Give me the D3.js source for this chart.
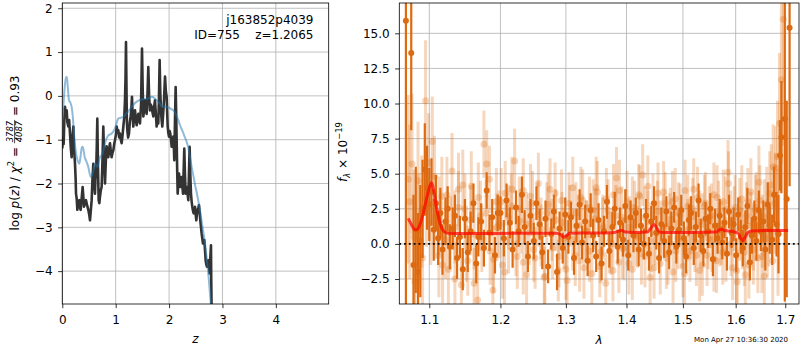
<!DOCTYPE html>
<html>
<head>
<meta charset="utf-8">
<script src="https://cdn.jsdelivr.net/npm/d3@7"></script>
<style>
body { margin: 0; background: #fff; }
text { font-family: "DejaVu Sans", sans-serif; }
</style>
</head>
<body>
<div id="chart"></div>
<script>
// ---- left panel: log p(z) (black) and prior (blue), pairs [z, log p]
const pzCurve = [[0.000,-1.20],[0.012,-0.95],[0.025,-1.10],[0.040,-0.50],[0.051,-0.25],[0.065,-0.45],[0.082,-0.33],[0.095,-0.60],[0.113,-0.70],[0.128,-0.55],[0.144,-0.86],[0.160,-1.20],[0.175,-1.40],[0.190,-0.95],[0.207,-0.70],[0.220,-1.20],[0.238,-1.55],[0.250,-1.90],[0.257,-2.23],[0.270,-2.35],[0.282,-2.60],[0.300,-2.40],[0.319,-2.38],[0.332,-2.55],[0.344,-2.60],[0.362,-2.35],[0.381,-2.08],[0.394,-2.30],[0.406,-2.53],[0.425,-2.45],[0.444,-2.38],[0.465,-2.50],[0.487,-2.60],[0.503,-2.70],[0.519,-2.84],[0.535,-2.60],[0.550,-2.38],[0.565,-1.90],[0.581,-1.55],[0.597,-2.00],[0.612,-2.23],[0.622,-1.85],[0.631,-1.85],[0.645,-1.20],[0.656,-0.52],[0.668,-1.60],[0.681,-2.38],[0.694,-2.45],[0.706,-2.30],[0.722,-2.15],[0.737,-2.08],[0.752,-1.50],[0.768,-0.70],[0.784,-1.40],[0.800,-2.00],[0.815,-1.50],[0.830,-1.15],[0.846,-1.30],[0.862,-1.40],[0.878,-1.20],[0.893,-1.08],[0.908,-1.25],[0.924,-1.40],[0.940,-1.30],[0.956,-1.24],[0.972,-1.10],[0.987,-1.01],[1.003,-0.90],[1.018,-0.70],[1.034,-0.82],[1.049,-0.78],[1.065,-0.95],[1.080,-0.86],[1.096,-1.00],[1.112,-1.08],[1.128,-0.90],[1.143,-0.70],[1.160,-0.50],[1.174,-0.10],[1.184,0.40],[1.193,1.23],[1.203,0.10],[1.210,-0.60],[1.218,-0.78],[1.233,-0.95],[1.249,-0.86],[1.265,-0.60],[1.280,-0.47],[1.293,-0.30],[1.305,-0.02],[1.318,-0.45],[1.330,-0.70],[1.346,-0.45],[1.362,-0.33],[1.378,-0.55],[1.393,-0.67],[1.408,-0.50],[1.424,-0.41],[1.440,-0.55],[1.455,-0.63],[1.475,-0.20],[1.493,1.08],[1.505,0.20],[1.518,-0.47],[1.534,-0.30],[1.549,-0.10],[1.565,-0.30],[1.580,-0.41],[1.596,0.05],[1.611,0.66],[1.626,0.00],[1.642,-0.33],[1.658,-0.20],[1.674,-0.25],[1.690,-0.38],[1.705,-0.47],[1.720,-0.25],[1.736,-0.10],[1.752,-0.40],[1.767,-0.70],[1.783,-0.55],[1.798,-0.63],[1.810,-0.10],[1.823,0.82],[1.835,0.10],[1.848,-0.33],[1.860,-0.55],[1.873,-0.70],[1.890,-0.40],[1.905,-0.10],[1.915,0.20],[1.924,0.44],[1.940,0.10],[1.955,-0.02],[1.965,-0.40],[1.974,-0.70],[1.986,-0.85],[1.998,-0.93],[2.010,-0.80],[2.023,-0.86],[2.036,-1.00],[2.048,-1.16],[2.063,-1.05],[2.079,-0.93],[2.090,-1.20],[2.098,-1.47],[2.110,-0.60],[2.123,0.20],[2.133,-0.40],[2.142,-1.00],[2.152,-1.70],[2.161,-2.23],[2.174,-2.00],[2.186,-1.77],[2.198,-1.95],[2.211,-2.08],[2.224,-1.95],[2.236,-1.85],[2.248,-2.05],[2.261,-2.23],[2.273,-1.70],[2.285,-1.20],[2.298,-1.80],[2.310,-2.23],[2.322,-2.15],[2.335,-2.08],[2.348,-2.25],[2.360,-2.38],[2.372,-1.80],[2.385,-1.16],[2.398,-1.80],[2.410,-2.23],[2.422,-2.40],[2.435,-2.53],[2.448,-2.62],[2.460,-2.68],[2.472,-2.60],[2.485,-2.53],[2.498,-2.70],[2.510,-2.84],[2.522,-2.70],[2.535,-2.60],[2.548,-2.55],[2.560,-2.49],[2.572,-2.65],[2.585,-2.84],[2.598,-3.00],[2.610,-3.14],[2.622,-3.25],[2.635,-3.37],[2.648,-3.33],[2.660,-3.29],[2.672,-3.50],[2.685,-3.75],[2.698,-3.85],[2.710,-3.90],[2.722,-3.82],[2.735,-3.75],[2.748,-3.90],[2.760,-4.05],[2.772,-3.70],[2.785,-3.41],[2.790,-4.20],[2.797,-4.90]];

const priorCurve = [[0.000,-0.45],[0.019,-0.25],[0.045,0.20],[0.069,0.42],[0.085,0.43],[0.100,0.25],[0.125,-0.10],[0.150,-0.15],[0.175,-0.25],[0.195,-0.45],[0.219,-0.86],[0.245,-1.20],[0.269,-1.39],[0.295,-1.50],[0.319,-1.55],[0.340,-1.40],[0.365,-1.18],[0.381,-1.16],[0.400,-1.25],[0.420,-1.40],[0.444,-1.47],[0.487,-1.62],[0.531,-1.85],[0.569,-1.77],[0.612,-1.55],[0.656,-1.62],[0.706,-1.40],[0.756,-1.31],[0.800,-1.08],[0.862,-0.90],[0.924,-0.86],[0.987,-0.74],[1.049,-0.52],[1.143,-0.48],[1.205,-0.40],[1.299,-0.25],[1.393,-0.13],[1.487,-0.08],[1.611,-0.06],[1.674,-0.02],[1.736,-0.06],[1.767,-0.10],[1.830,-0.18],[1.861,-0.24],[1.930,-0.25],[1.986,-0.26],[2.040,-0.30],[2.079,-0.33],[2.110,-0.38],[2.142,-0.46],[2.175,-0.56],[2.205,-0.67],[2.250,-0.80],[2.298,-0.95],[2.330,-1.05],[2.360,-1.18],[2.390,-1.38],[2.423,-1.62],[2.455,-1.82],[2.485,-2.02],[2.516,-2.20],[2.548,-2.40],[2.580,-2.62],[2.610,-2.86],[2.640,-3.10],[2.673,-3.37],[2.700,-3.65],[2.722,-3.90],[2.745,-4.20],[2.766,-4.51],[2.797,-4.95]];

const zTicks = [0, 1, 2, 3, 4];
const logpTicks = [-4, -3, -2, -1, 0, 1, 2];

// ---- right panel: spectrum [lambda, flux, err]
const darkSpec = [[1.069,15.9,30],[1.076,13.6,5.5],[1.079,-1.5,5.0],[1.082,1.0,4.5],[1.085,-2.0,4.2],[1.088,0.2,4.0],[1.091,2.5,3.5],[1.094,5.3,3.3],[1.097,4.0,3.0],[1.100,2.8,2.6],[1.103,3.7,2.4],[1.106,1.0,2.2],[1.109,2.9,2.0],[1.112,0.4,1.9],[1.115,2.2,1.8],[1.118,-0.4,1.8],[1.122,1.6,1.7],[1.125,2.5,1.6],[1.128,-0.2,1.6],[1.132,1.1,1.5],[1.135,2.0,1.5],[1.138,-1.0,1.5],[1.142,0.5,1.5],[1.146,-1.8,1.5],[1.149,1.8,1.4],[1.153,-0.6,1.4],[1.157,0.9,1.4],[1.161,2.9,1.4],[1.165,-1.4,1.4],[1.168,0.5,1.4],[1.172,1.6,1.3],[1.176,-0.3,1.3],[1.180,3.8,1.3],[1.184,0.8,1.3],[1.188,1.9,1.3],[1.192,-0.8,1.3],[1.196,2.2,1.3],
[1.200,2.2,1.2],[1.205,0.4,1.3],[1.209,3.1,1.2],[1.214,1.5,1.1],[1.218,-0.4,1.3],[1.223,2.6,1.2],[1.227,0.9,1.1],[1.232,3.5,1.3],[1.236,1.2,1.2],[1.241,-0.9,1.1],[1.245,2.0,1.2],[1.250,0.2,1.3],[1.254,2.9,1.2],[1.259,1.4,1.1],[1.263,-0.6,1.2],[1.268,1.8,1.3],[1.272,-1.6,1.2],[1.277,0.7,1.1],[1.281,2.3,1.2],[1.286,-2.0,1.3],[1.290,1.1,1.2],[1.295,-0.3,1.1],[1.299,2.1,1.2],[1.304,0.5,1.2],[1.308,1.9,1.1],[1.313,-1.0,1.2],[1.317,1.3,1.2],[1.322,2.8,1.1],[1.326,0.1,1.2],[1.331,1.6,1.2],[1.335,-1.2,1.1],[1.340,2.4,1.2],[1.344,0.6,1.2],[1.349,-0.9,1.1],[1.353,1.7,1.2],[1.358,-1.4,1.2],[1.362,0.9,1.1],[1.367,3.0,1.2],[1.371,-0.5,1.2],[1.376,1.2,1.1],[1.380,2.5,1.2],[1.385,-0.2,1.2],[1.389,1.5,1.1],[1.394,0.3,1.2],[1.398,2.7,1.2],[1.403,-0.8,1.1],[1.407,1.9,1.2],[1.412,0.6,1.2],[1.416,2.2,1.1],[1.421,-0.4,1.2],[1.425,1.3,1.2],[1.430,0.0,1.1],[1.434,2.0,1.2],[1.439,-0.7,1.2],[1.443,1.6,1.1],[1.448,2.9,1.2],[1.452,0.8,1.2],[1.457,-1.0,1.1],[1.461,1.4,1.2],[1.466,0.2,1.2],[1.470,2.3,1.1],[1.475,-0.6,1.2],[1.479,1.1,1.2],[1.484,2.6,1.1],[1.488,-0.2,1.2],[1.493,1.0,1.2],[1.497,2.4,1.1],[1.502,0.4,1.2],[1.506,-0.9,1.2],[1.511,1.7,1.1],[1.515,2.2,1.2],[1.520,-0.3,1.2],[1.524,1.2,1.1],[1.529,3.1,1.2],[1.533,0.6,1.2],[1.538,-0.5,1.1],[1.542,1.8,1.2],[1.547,0.9,1.2],[1.551,2.5,1.1],[1.556,-1.1,1.2],[1.560,1.3,1.2],[1.565,0.4,1.1],[1.569,2.0,1.2],[1.574,0.1,1.2],[1.578,1.5,1.1],[1.583,-0.7,1.2],[1.587,2.3,1.2],[1.592,0.8,1.1],[1.596,1.4,1.2],[1.601,-0.8,1.2],[1.605,2.1,1.2],[1.610,0.5,1.2],[1.614,-0.3,1.3],[1.619,1.2,1.2],[1.623,2.7,1.3],[1.628,-1.3,1.3],[1.632,0.6,1.3],[1.637,1.8,1.3],[1.641,0.2,1.4],[1.646,2.4,1.4],[1.650,0.9,1.4],[1.655,1.6,1.5],[1.659,-0.4,1.5],[1.664,2.8,1.6],[1.668,1.0,1.7],[1.673,0.3,1.8],[1.677,3.5,2.0],[1.682,1.4,2.3],[1.686,0.7,2.8],[1.689,6.3,2.5],[1.692,7.6,4.0],[1.699,8.9,13],[1.703,3.2,7.0],[1.709,15.4,11.3]];

const lightSpec = [[1.072,4.6,6.0],[1.077,5.7,5.0],[1.081,-2.7,4.5],[1.086,1.0,4.0],[1.090,2.3,4.0],[1.095,10.2,4.3],[1.099,5.8,3.5],[1.104,7.3,3.2],[1.108,1.9,3.0],[1.113,-0.8,3.0],[1.117,3.4,2.8],[1.122,0.3,2.8],[1.126,-1.8,2.7],[1.131,5.2,2.7],[1.135,1.2,2.6],[1.140,3.9,2.6],[1.144,-2.9,2.6],[1.149,2.5,2.5],[1.153,-1.2,2.5],[1.158,4.1,2.5],[1.162,0.7,2.5],[1.167,-4.0,2.5],[1.171,2.0,2.5],[1.176,7.1,2.4],[1.180,5.7,2.4],[1.185,-0.5,2.4],[1.189,-3.3,2.4],[1.194,3.0,2.4],[1.198,1.4,2.4],[1.203,-1.5,2.4],[1.207,3.6,2.3],[1.212,0.2,2.3],[1.216,2.7,2.3],[1.221,5.9,2.3],[1.225,-0.9,2.3],[1.230,1.6,2.3],[1.234,3.8,2.3],[1.239,-2.2,2.3],[1.243,0.8,2.3],[1.248,2.9,2.3],[1.252,-1.0,2.2],[1.257,4.3,2.2],[1.261,1.1,2.2],[1.266,-2.4,2.2],[1.270,2.2,2.2],[1.275,3.9,2.2],[1.279,-0.3,2.2],[1.284,1.7,2.2],[1.288,-1.9,2.2],[1.293,3.1,2.2],[1.297,0.4,2.2],[1.302,-2.6,2.2],[1.306,2.0,2.2],[1.311,4.0,2.2],[1.315,-0.8,2.2],[1.320,1.3,2.2],[1.324,3.3,2.2],[1.329,-1.7,2.2],[1.333,0.9,2.2],[1.338,2.6,2.2],[1.342,-2.1,2.2],[1.347,1.8,2.2],[1.351,3.7,2.2],[1.356,-0.6,2.2],[1.360,1.1,2.2],[1.365,-2.8,2.2],[1.369,2.4,2.2],[1.374,0.0,2.2],[1.378,3.5,2.2],[1.383,4.7,2.2],[1.387,-1.3,2.2],[1.392,1.9,2.2],[1.396,-0.4,2.2],[1.401,3.0,2.2],[1.405,1.2,2.2],[1.410,-1.8,2.2],[1.414,2.3,2.2],[1.419,0.5,2.2],[1.423,3.4,2.2],[1.428,4.9,2.2],[1.432,-0.9,2.2],[1.437,1.6,2.2],[1.441,-2.4,2.2],[1.446,2.8,2.2],[1.450,0.7,2.2],[1.455,3.6,2.2],[1.459,-1.4,2.2],[1.464,1.3,2.2],[1.468,2.9,2.2],[1.473,-0.7,2.2],[1.477,1.8,2.2],[1.482,-2.0,2.2],[1.486,3.2,2.2],[1.491,0.4,2.2],[1.495,2.1,2.2],[1.500,-1.6,2.2],[1.504,3.8,2.2],[1.509,1.0,2.2],[1.513,-0.5,2.2],[1.518,2.5,2.2],[1.522,0.2,2.2],[1.527,3.3,2.2],[1.531,-1.9,2.2],[1.536,1.4,2.2],[1.540,2.7,2.2],[1.545,-0.8,2.2],[1.549,1.9,2.2],[1.554,0.3,2.3],[1.558,3.5,2.3],[1.563,-1.2,2.3],[1.567,2.2,2.3],[1.572,0.8,2.3],[1.576,3.0,2.3],[1.581,-0.4,2.3],[1.585,5.1,2.3],[1.590,1.5,2.3],[1.594,-1.7,2.3],[1.599,2.6,2.3],[1.603,-2.7,2.3],[1.608,1.1,2.3],[1.612,3.2,2.4],[1.617,-0.6,2.4],[1.621,2.0,2.4],[1.626,-1.5,2.4],[1.630,3.7,2.4],[1.635,0.5,2.4],[1.639,2.4,2.5],[1.644,-1.0,2.5],[1.648,3.1,2.5],[1.653,0.9,2.6],[1.657,-2.3,2.6],[1.662,2.8,2.7],[1.666,1.2,2.8],[1.671,4.2,2.9],[1.675,5.5,3.0],[1.680,5.4,3.0],[1.684,6.2,4.0],[1.688,8.6,5.0],[1.692,11.7,6.0],[1.696,16.0,9.0]];

// second faint exposure
const lightSpecB = [[1.074,3.0,5.5],[1.080,0.5,4.8],[1.085,4.5,4.2],[1.091,-1.0,3.8],[1.096,3.2,3.4],[1.102,1.5,3.0],[1.107,4.8,2.9],[1.113,2.0,2.8],[1.118,-1.5,2.7],[1.124,3.5,2.7],[1.129,0.8,2.6],[1.135,-2.5,2.6],[1.140,2.6,2.6],[1.146,4.2,2.5],[1.151,-0.2,2.5],[1.157,1.7,2.5],[1.162,-2.8,2.5],[1.168,3.3,2.5],[1.173,0.4,2.4],[1.179,2.2,2.4],[1.184,4.6,2.4],[1.190,-1.1,2.4],[1.195,1.2,2.4],[1.201,3.0,2.4],[1.206,-2.0,2.3],[1.212,1.9,2.3],[1.217,3.9,2.3],[1.223,0.0,2.3],[1.228,2.5,2.3],[1.234,-1.3,2.3],[1.239,1.4,2.3],[1.245,3.4,2.3],[1.250,-0.4,2.3],[1.256,2.1,2.3],[1.261,0.6,2.2],[1.267,-2.3,2.2],[1.272,2.8,2.2],[1.278,1.0,2.2],[1.283,3.6,2.2],[1.289,-0.9,2.2],[1.294,1.5,2.2],[1.300,-1.8,2.2],[1.305,2.9,2.2],[1.311,0.3,2.2],[1.316,2.2,2.2],[1.322,-1.2,2.2],[1.327,3.1,2.2],[1.333,0.9,2.2],[1.338,-0.5,2.2],[1.344,2.4,2.2],[1.349,4.0,2.2],[1.355,-1.6,2.2],[1.360,1.3,2.2],[1.366,3.2,2.2],[1.371,0.1,2.2],[1.377,-1.9,2.2],[1.382,2.0,2.2],[1.388,3.8,2.2],[1.393,-0.3,2.2],[1.399,1.7,2.2],[1.404,-1.4,2.2],[1.410,2.6,2.2],[1.415,0.6,2.2],[1.421,3.5,2.2],[1.426,-0.7,2.2],[1.432,1.9,2.2],[1.437,4.1,2.2],[1.443,0.2,2.2],[1.448,-1.7,2.2],[1.454,2.3,2.2],[1.459,0.9,2.2],[1.465,3.7,2.2],[1.470,-1.0,2.2],[1.476,1.4,2.2],[1.481,3.0,2.2],[1.487,-0.5,2.2],[1.492,2.2,2.2],[1.498,0.5,2.2],[1.503,-2.1,2.2],[1.509,2.7,2.2],[1.514,1.1,2.2],[1.520,3.9,2.2],[1.525,-0.8,2.2],[1.531,1.6,2.2],[1.536,-1.5,2.2],[1.542,2.9,2.2],[1.547,0.4,2.2],[1.553,2.0,2.3],[1.558,-1.1,2.3],[1.564,3.3,2.3],[1.569,0.7,2.3],[1.575,-0.6,2.3],[1.580,2.5,2.3],[1.586,4.3,2.3],[1.591,0.0,2.3],[1.597,1.8,2.3],[1.602,-1.9,2.3],[1.608,2.4,2.3],[1.613,0.6,2.4],[1.619,-2.2,2.4],[1.624,3.0,2.4],[1.630,1.3,2.4],[1.635,-0.4,2.5],[1.641,2.6,2.5],[1.646,4.4,2.6],[1.652,-0.9,2.6],[1.657,1.9,2.7],[1.663,0.4,2.8],[1.668,3.6,3.0],[1.674,-1.2,3.2],[1.679,2.9,3.6],[1.685,0.8,4.5]];

const modelLine = [[1.072,1.82],[1.076,1.40],[1.080,1.05],[1.083,1.00],[1.087,1.30],[1.091,2.00],[1.095,2.90],[1.099,3.80],[1.103,4.35],[1.106,3.80],[1.109,2.80],[1.113,1.80],[1.117,1.10],[1.121,0.85],[1.126,0.76],[1.140,0.75],[1.200,0.75],[1.250,0.76],[1.285,0.76],[1.292,0.65],[1.297,0.48],[1.301,0.60],[1.306,0.76],[1.350,0.78],[1.380,0.82],[1.387,0.92],[1.392,0.95],[1.398,0.85],[1.420,0.82],[1.436,0.85],[1.442,1.10],[1.448,1.38],[1.452,1.20],[1.456,0.90],[1.462,0.82],[1.520,0.82],[1.562,0.84],[1.568,1.00],[1.573,1.05],[1.578,0.95],[1.595,0.88],[1.605,0.75],[1.610,0.40],[1.614,0.23],[1.618,0.45],[1.624,0.80],[1.632,0.92],[1.660,0.95],[1.706,0.95]];

const lamTicks = [1.1, 1.2, 1.3, 1.4, 1.5, 1.6, 1.7];
const fluxTicks = [-2.5, 0, 2.5, 5, 7.5, 10, 12.5, 15];

const W = 800, H = 350;
const orange = "#dd6a10";
const svg = d3.select("#chart").append("svg").attr("width", W).attr("height", H);

const left = {x0: 62.3, x1: 328.7, y0: 3, y1: 304};
const right = {x0: 399.3, x1: 799, y0: 3, y1: 304};

const xz = d3.scaleLinear().domain([0, 4.99]).range([left.x0, left.x1]);
const yp = d3.scaleLinear().domain([-4.75, 2.12]).range([left.y1, left.y0]);
const xl = d3.scaleLog().domain([1.0604, 1.7288]).range([right.x0, right.x1]);
const yf = d3.scaleLinear().domain([-4.28, 17.16]).range([right.y1, right.y0]);

function panel(box, x, y, xt, yt, xfmt, yfmt, id) {
    const g = svg.append("g");
    // grid
    g.selectAll(".gx").data(xt).enter().append("line")
        .attr("x1", d => x(d)).attr("x2", d => x(d))
        .attr("y1", box.y0).attr("y2", box.y1)
        .attr("stroke", "#b0b0b0").attr("stroke-width", 0.8);
    g.selectAll(".gy").data(yt).enter().append("line")
        .attr("x1", box.x0).attr("x2", box.x1)
        .attr("y1", d => y(d)).attr("y2", d => y(d))
        .attr("stroke", "#b0b0b0").attr("stroke-width", 0.8);

    svg.append("clipPath").attr("id", id)
        .append("rect").attr("x", box.x0).attr("y", box.y0)
        .attr("width", box.x1 - box.x0).attr("height", box.y1 - box.y0);
    const plot = svg.append("g").attr("clip-path", "url(#" + id + ")");

    const ax = svg.append("g").attr("transform", "translate(0," + box.y1 + ")")
        .call(d3.axisBottom(x).tickValues(xt).tickFormat(xfmt).tickSize(4.2).tickPadding(7));
    const ay = svg.append("g").attr("transform", "translate(" + box.x0 + ",0)")
        .call(d3.axisLeft(y).tickValues(yt).tickFormat(yfmt).tickSize(4.2).tickPadding(5.5));
    [ax, ay].forEach(a => {
        a.select(".domain").remove();
        a.selectAll("line").attr("stroke", "#000").attr("stroke-width", 0.8);
        a.selectAll("text").attr("font-size", 12).attr("fill", "#000")
            .attr("font-family", "DejaVu Sans");
    });
    return plot;
}

function frame(box) {
    svg.append("rect").attr("x", box.x0).attr("y", box.y0)
        .attr("width", box.x1 - box.x0).attr("height", box.y1 - box.y0)
        .attr("fill", "none").attr("stroke", "#000").attr("stroke-width", 0.8);
}

// ---------- left panel
const lp = panel(left, xz, yp, zTicks, logpTicks, d3.format("d"), d3.format("d"), "clipL");
const zline = d3.line().x(d => xz(d[0])).y(d => yp(d[1]));
lp.append("path").datum(pzCurve).attr("d", zline)
    .attr("fill", "none").attr("stroke", "#333").attr("stroke-width", 2.6)
    .attr("stroke-linejoin", "round");
lp.append("path").datum(priorCurve).attr("d", d3.line().curve(d3.curveMonotoneX).x(d => xz(d[0])).y(d => yp(d[1])))
    .attr("fill", "none").attr("stroke", "#1f77b4").attr("stroke-opacity", 0.5).attr("stroke-width", 2);
frame(left);

svg.append("text").attr("x", 313.5).attr("y", 24).attr("text-anchor", "end")
    .attr("font-size", 12).text("j163852p4039");
svg.append("text").attr("x", 313.5).attr("y", 38.5).attr("text-anchor", "end")
    .attr("font-size", 12).style("white-space", "pre").text("ID=755    z=1.2065");

svg.append("text").attr("x", (left.x0 + left.x1) / 2).attr("y", 343)
    .attr("text-anchor", "middle").attr("font-size", 12).attr("font-style", "italic").text("z");

// left y label with a stacked fraction
const ylab = svg.append("g");
const t1 = ylab.append("text").attr("font-size", 12).style("white-space", "pre");
t1.append("tspan").text("log ");
t1.append("tspan").attr("font-style", "italic").text("p");
t1.append("tspan").text("(");
t1.append("tspan").attr("font-style", "italic").text("z");
t1.append("tspan").text(") / ");
t1.append("tspan").attr("font-style", "italic").text("χ");
t1.append("tspan").attr("font-size", 8.4).attr("dy", -4.5).text("2");
t1.append("tspan").attr("dy", 4.5).text(" = ");
const w1 = t1.node().getComputedTextLength();
const num = ylab.append("text").attr("font-size", 8.4).attr("text-anchor", "middle").attr("y", -5.4).attr("font-style", "italic").text("3787");
const den = ylab.append("text").attr("font-size", 8.4).attr("text-anchor", "middle").attr("y", 3.6).attr("font-style", "italic").text("4087");
const fw = Math.max(num.node().getComputedTextLength(), den.node().getComputedTextLength()) + 2;
num.attr("x", w1 + fw / 2);
den.attr("x", w1 + fw / 2);
ylab.append("line").attr("x1", w1).attr("x2", w1 + fw).attr("y1", -3.9).attr("y2", -3.9)
    .attr("stroke", "#000").attr("stroke-width", 0.7);
const t3 = ylab.append("text").attr("font-size", 12).attr("x", w1 + fw).style("white-space", "pre").text(" = 0.93");
const total = w1 + fw + t3.node().getComputedTextLength();
ylab.attr("transform", "translate(18.5," + (153 + total / 2) + ") rotate(-90)");

// ---------- right panel
const rp = panel(right, xl, yf, lamTicks, fluxTicks, d3.format(".1f"), d3.format(".1f"), "clipR");

function errorbars(data, width, op, r) {
    const g = rp.append("g");
    g.selectAll("line").data(data).enter().append("line")
        .attr("x1", d => xl(d[0])).attr("x2", d => xl(d[0]))
        .attr("y1", d => yf(d[1] - d[2])).attr("y2", d => yf(d[1] + d[2]))
        .attr("stroke", orange).attr("stroke-width", width).attr("stroke-opacity", op);
    g.selectAll("circle").data(data).enter().append("circle")
        .attr("cx", d => xl(d[0])).attr("cy", d => yf(d[1])).attr("r", r)
        .attr("fill", orange).attr("fill-opacity", op);
}
errorbars(lightSpec, 3, 0.28, 3.5);
errorbars(lightSpecB, 3, 0.28, 3.5);
errorbars(darkSpec, 2.2, 1, 3);

rp.append("path").datum(modelLine)
    .attr("d", d3.line().curve(d3.curveMonotoneX).x(d => xl(d[0])).y(d => yf(d[1])))
    .attr("fill", "none").attr("stroke", "red").attr("stroke-opacity", 0.7).attr("stroke-width", 3);

rp.append("line").attr("x1", right.x0).attr("x2", right.x1)
    .attr("y1", yf(0)).attr("y2", yf(0))
    .attr("stroke", "#000").attr("stroke-width", 1.8).attr("stroke-dasharray", "1.8,3");
frame(right);

svg.append("text").attr("x", (right.x0 + right.x1) / 2).attr("y", 344)
    .attr("text-anchor", "middle").attr("font-size", 12).attr("font-style", "italic").text("λ");

const fl = svg.append("text").attr("text-anchor", "middle").attr("font-size", 12)
    .attr("transform", "translate(347,152) rotate(-90)");
fl.append("tspan").attr("font-style", "italic").text("f");
fl.append("tspan").attr("font-style", "italic").attr("font-size", 8.4).attr("dy", 2.5).text("λ");
fl.append("tspan").attr("dy", -2.5).text(" × 10");
fl.append("tspan").attr("font-size", 8.4).attr("dy", -5).text("−19");

svg.append("text").attr("x", 788).attr("y", 341.5).attr("text-anchor", "end")
    .attr("font-size", 7).text("Mon Apr 27 10:36:30 2020");
</script>
</body>
</html>
